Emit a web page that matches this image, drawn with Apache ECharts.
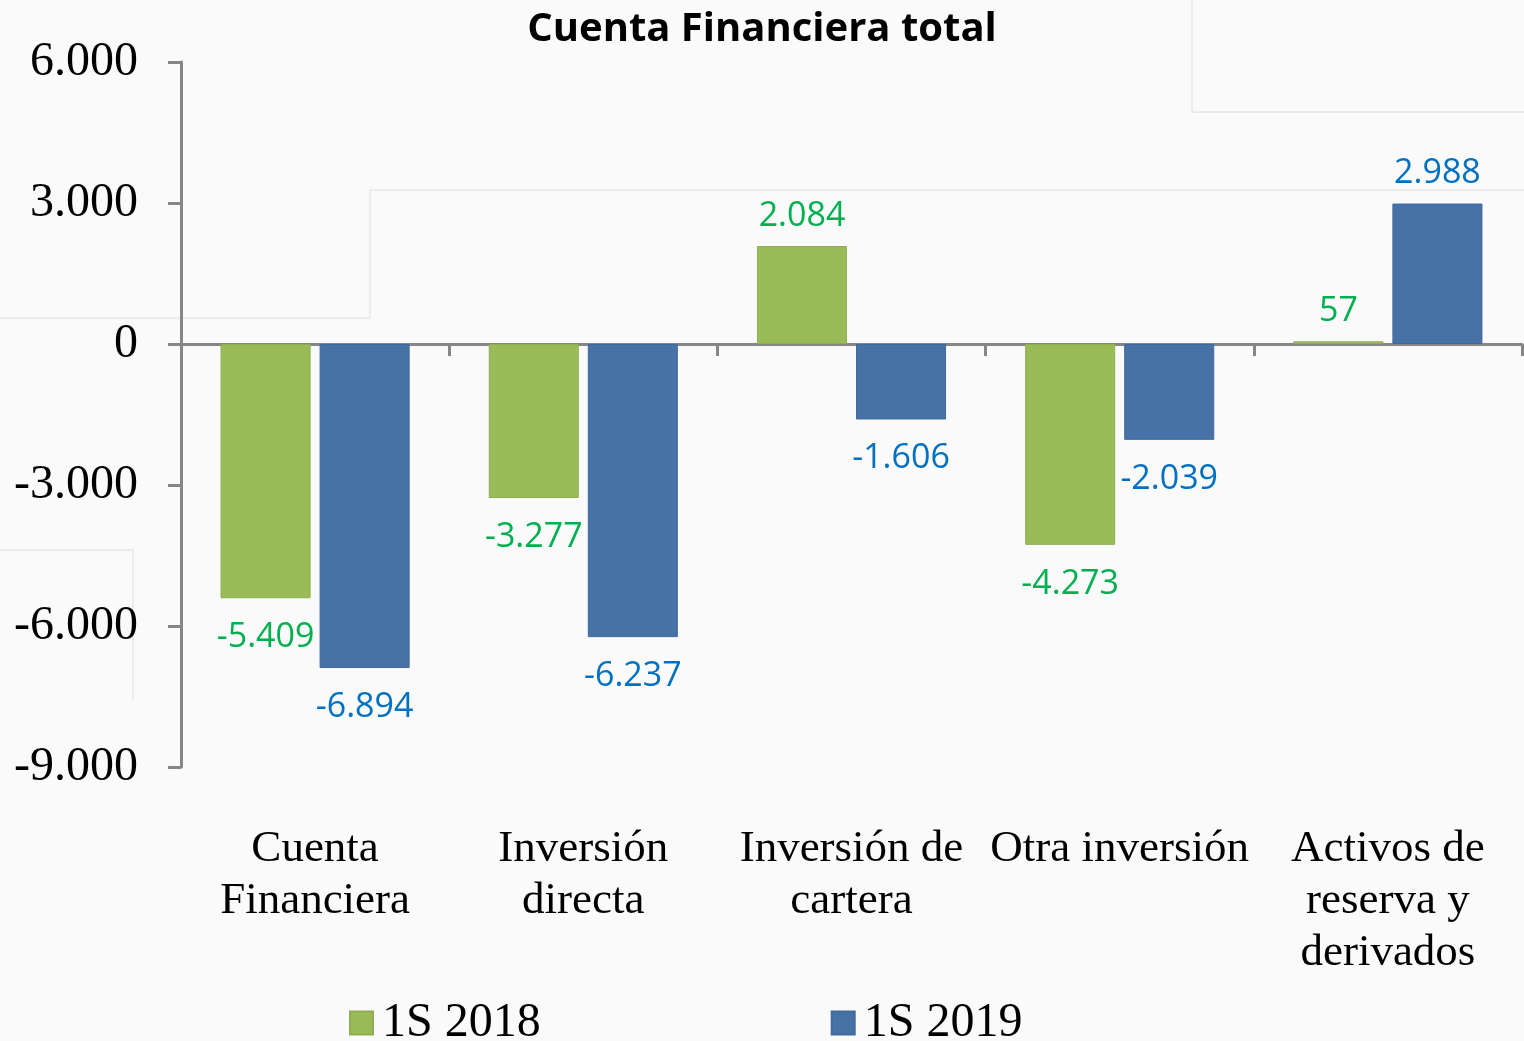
<!DOCTYPE html>
<html lang="es">
<head>
    <meta charset="UTF-8">
    <title>Cuenta Financiera total</title>
    <script src="https://cdn.jsdelivr.net/npm/echarts@6/dist/echarts.min.js"></script>
    <style>
        html, body { margin: 0; padding: 0; background: #fafafa; }
        #chart { width: 1524px; height: 1041px; }
    </style>
</head>
<body>
<div id="chart"></div>
<script>
  // datos del grafico
  var categorias = ['Cuenta\nFinanciera', 'Inversión\ndirecta', 'Inversión de\ncartera', 'Otra inversión', 'Activos de\nreserva y\nderivados'];
  var serie2018 = [-5409, -3277, 2084, -4273, 57];
  var serie2019 = [-6894, -6237, -1606, -2039, 2988];
  var nombres = ['1S 2018', '1S 2019'];

  // formato con punto de miles
  function fmt(v) {
    var s = Math.abs(v).toString().replace(/\B(?=(\d{3})+(?!\d))/g, '.');
    return (v < 0 ? '-' : '') + s;
  }

  function puntos(arr) {
    return arr.map(function (v) {
      return {
        value: v,
        label: {position: v < 0 ? 'bottom' : 'top', distance: v < 0 ? 22 : 13}
      };
    });
  }

  var chart = echarts.init(document.getElementById('chart'));
  var serif = '"Liberation Serif", "Times New Roman", serif';

  var option = {
    backgroundColor: '#fafafa',
    animation: false,
    title: {
      text: 'Cuenta Financiera total',
      left: 'center',
      top: 5,
      textStyle: {fontFamily: '"Open Sans", sans-serif', fontWeight: 'bold', fontSize: 40, color: '#000'}
    },
    // lineas tenues del fondo
    graphic: [
      {type: 'polyline', silent: true, z: -10, shape: {points: [[0, 318], [370, 318], [370, 190], [1524, 190]]}, style: {stroke: '#ececec', lineWidth: 2, fill: null}},
      {type: 'polyline', silent: true, z: -10, shape: {points: [[1192, 0], [1192, 112], [1524, 112]]}, style: {stroke: '#ececec', lineWidth: 2, fill: null}},
      {type: 'polyline', silent: true, z: -10, shape: {points: [[0, 550], [133, 550], [133, 700]]}, style: {stroke: '#ececec', lineWidth: 2, fill: null}}
    ],
    legend: {
      data: nombres,
      left: 344,
      top: 994,
      itemWidth: 23,
      itemHeight: 23,
      itemGap: 290,
      icon: 'rect',
      textStyle: {fontFamily: serif, fontSize: 48, color: '#000', padding: [0, 0, 0, 4]}
    },
    grid: {left: 181, right: 2, top: 62, bottom: 274, containLabel: false},
    xAxis: [
      {
        type: 'category',
        data: categorias,
        position: 'bottom',
        axisLine: {show: false, onZero: false},
        axisTick: {show: false},
        axisLabel: {
          interval: 0,
          margin: 56,
          fontFamily: serif,
          fontSize: 45,
          lineHeight: 52,
          color: '#000'
        }
      },
      {
        type: 'category',
        data: categorias,
        position: 'bottom',
        axisLine: {show: true, onZero: true, lineStyle: {color: '#868686', width: 3}},
        axisTick: {show: true, length: 12, lineStyle: {color: '#868686', width: 3}},
        axisLabel: {show: false}
      }
    ],
    yAxis: {
      type: 'value',
      min: -9000,
      max: 6000,
      interval: 3000,
      axisLine: {show: true, lineStyle: {color: '#868686', width: 3}},
      axisTick: {show: true, length: 13, lineStyle: {color: '#868686', width: 3}},
      splitLine: {show: false},
      axisLabel: {
        margin: 43,
        fontFamily: serif,
        fontSize: 48,
        color: '#000',
        formatter: fmt
      }
    },
    series: [
      {
        name: nombres[0],
        type: 'bar',
        xAxisIndex: 0,
        data: puntos(serie2018),
        barGap: '10%',
        barCategoryGap: '29.5%',
        itemStyle: {color: '#9bbb59', borderColor: '#8fae52', borderWidth: 1},
        label: {
          show: true,
          fontFamily: '"Open Sans", sans-serif',
          fontSize: 34,
          color: '#00b050',
          formatter: function (p) { return fmt(p.value); }
        }
      },
      {
        name: nombres[1],
        type: 'bar',
        xAxisIndex: 0,
        data: puntos(serie2019),
        barGap: '10%',
        barCategoryGap: '29.5%',
        itemStyle: {color: '#4672a7', borderColor: '#41699a', borderWidth: 1},
        label: {
          show: true,
          fontFamily: '"Open Sans", sans-serif',
          fontSize: 34,
          color: '#0070c0',
          formatter: function (p) { return fmt(p.value); }
        }
      }
    ]
  };

  chart.setOption(option);
</script>
</body>
</html>
